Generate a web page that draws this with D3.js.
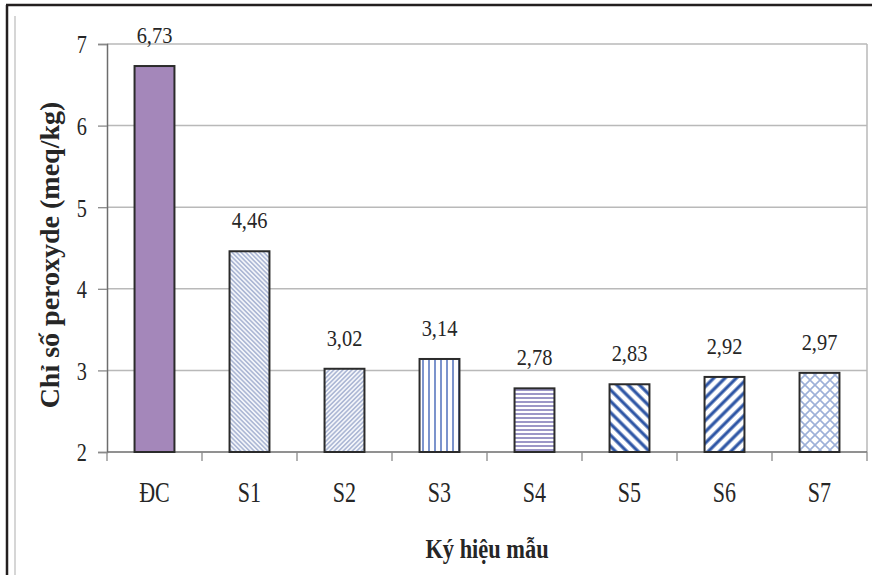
<!DOCTYPE html>
<html>
<head>
<meta charset="utf-8">
<script src="https://cdn.jsdelivr.net/npm/d3@7"></script>
<style>
  html, body { margin: 0; padding: 0; background: #fff; }
  svg { display: block; }
  text { font-family: "Liberation Serif", "Times New Roman", serif; fill: #262626; }
</style>
</head>
<body>
<svg id="chart" width="872" height="575"></svg>
<script>
// Peroxide value per sample
const categories = ["ĐC", "S1", "S2", "S3", "S4", "S5", "S6", "S7"];
const values = [6.73, 4.46, 3.02, 3.14, 2.78, 2.83, 2.92, 2.97];
const yTicks = [2, 3, 4, 5, 6, 7];
const fills = ["solid", "fineBack", "fineFwd", "vert", "horiz", "wideBack", "wideFwd", "lattice"];

const svg = d3.select("#chart");
const W = 872, H = 575;
const plot = { left: 107, right: 867, top: 44, bottom: 452 };

// Fill patterns for the bars
const defs = svg.append("defs");
function linePattern(id, size, angle, color, width, bg) {
  const p = defs.append("pattern")
    .attr("id", id).attr("patternUnits", "userSpaceOnUse")
    .attr("width", size).attr("height", size)
    .attr("patternTransform", `rotate(${angle})`);
  p.append("rect").attr("width", size).attr("height", size).attr("fill", bg);
  p.append("line").attr("x1", size / 2).attr("y1", 0).attr("x2", size / 2).attr("y2", size)
    .attr("stroke", color).attr("stroke-width", width);
}
linePattern("fineBack", 3.2, -45, "#8d9cc4", 1.1, "#f3f5fa");
linePattern("fineFwd", 3.2, 45, "#8d9cc4", 1.1, "#f3f5fa");
linePattern("vert", 6, 0, "#5b79c0", 1.6, "#ffffff");
linePattern("horiz", 4, 90, "#7b74b4", 1.5, "#ffffff");
linePattern("wideBack", 8, -45, "#2d55a5", 3.2, "#ffffff");
linePattern("wideFwd", 8, 45, "#2d55a5", 3.2, "#ffffff");
{
  const p = defs.append("pattern")
    .attr("id", "lattice").attr("patternUnits", "userSpaceOnUse")
    .attr("width", 10).attr("height", 10);
  p.append("rect").attr("width", 10).attr("height", 10).attr("fill", "#ffffff");
  p.append("path").attr("d", "M0,0 L10,10 M10,0 L0,10")
    .attr("stroke", "#9db0d8").attr("stroke-width", 1.6).attr("fill", "none");
}
const solidColor = "#a487ba";

// Outer frame
svg.append("line").attr("x1", 6).attr("y1", 5).attr("x2", W).attr("y2", 5)
  .attr("stroke", "#231f1f").attr("stroke-width", 2.5);
svg.append("line").attr("x1", 7).attr("y1", 5).attr("x2", 7).attr("y2", H)
  .attr("stroke", "#231f1f").attr("stroke-width", 2.5);
svg.append("line").attr("x1", 15).attr("y1", 16).attr("x2", 15).attr("y2", H)
  .attr("stroke", "#c8c8c8").attr("stroke-width", 1.5);

// Scales
const x = d3.scaleBand().domain(categories)
  .range([plot.left, plot.right]).paddingInner(0.58).paddingOuter(0.29);
const xStep = d3.scaleBand().domain(categories).range([plot.left, plot.right]);
const y = d3.scaleLinear().domain([2, 7]).range([plot.bottom, plot.top]);

// Gridlines and plot border
const g = svg.append("g");
g.selectAll("line.grid").data(yTicks.filter(t => t > 2)).join("line")
  .attr("class", "grid")
  .attr("x1", plot.left).attr("x2", plot.right)
  .attr("y1", d => y(d)).attr("y2", d => y(d))
  .attr("stroke", "#b9b9b9").attr("stroke-width", 1.5);
g.append("line").attr("x1", plot.right).attr("x2", plot.right)
  .attr("y1", plot.top).attr("y2", plot.bottom)
  .attr("stroke", "#b9b9b9").attr("stroke-width", 1.5);

// Y axis
const yAxis = d3.axisLeft(y).tickValues(yTicks).tickSize(9).tickPadding(11)
  .tickFormat(d3.format("d"));
const ya = svg.append("g").attr("transform", `translate(${plot.left},0)`).call(yAxis);
ya.attr("font-family", null);
ya.select(".domain").attr("stroke", "#6d6d6d").attr("stroke-width", 1.5);
ya.selectAll(".tick line").attr("stroke", "#8a8a8a").attr("stroke-width", 1.3);
ya.selectAll(".tick text")
  .attr("font-size", 26).attr("fill", "#262626")
  .attr("dy", "0.34em")
  .each(function () {
    const t = d3.select(this);
    const xx = +t.attr("x");
    t.attr("transform", `translate(${xx},0) scale(0.78,1)`).attr("x", 0);
  });

// X axis: ticks at category boundaries
const xa = svg.append("g").attr("transform", `translate(0,${plot.bottom})`);
xa.append("line").attr("x1", plot.left).attr("x2", plot.right)
  .attr("stroke", "#6d6d6d").attr("stroke-width", 1.5);
const boundaries = categories.map(c => xStep(c)).concat([plot.right]);
xa.selectAll("line.tk").data(boundaries).join("line").attr("class", "tk")
  .attr("x1", d => d).attr("x2", d => d).attr("y1", 0).attr("y2", 9)
  .attr("stroke", "#8a8a8a").attr("stroke-width", 1.3);
xa.selectAll("text").data(categories).join("text")
  .attr("transform", d => `translate(${x(d) + x.bandwidth() / 2},50) scale(0.76,1)`)
  .attr("text-anchor", "middle").attr("font-size", 29)
  .text(d => d);

// Bars
const data = categories.map((c, i) => ({ c, v: values[i], f: fills[i] }));
svg.selectAll("rect.bar").data(data).join("rect").attr("class", "bar")
  .attr("x", d => x(d.c)).attr("width", x.bandwidth())
  .attr("y", d => y(d.v)).attr("height", d => y(2) - y(d.v))
  .attr("fill", d => d.f === "solid" ? solidColor : `url(#${d.f})`)
  .attr("stroke", "#2b2b2b").attr("stroke-width", 2);

// Value labels
svg.selectAll("text.val").data(data).join("text").attr("class", "val")
  .attr("transform", d => `translate(${x(d.c) + x.bandwidth() / 2},${y(d.v) - 23}) scale(0.85,1)`)
  .attr("text-anchor", "middle").attr("font-size", 24)
  .text(d => d.v.toFixed(2).replace(".", ","));

// Axis titles
svg.append("text")
  .attr("transform", `translate(59,255) rotate(-90)`)
  .attr("text-anchor", "middle").attr("font-size", 28).attr("font-weight", "bold")
  .text("Chỉ số peroxyde (meq/kg)");
svg.append("text")
  .attr("transform", `translate(487,558) scale(0.8,1)`)
  .attr("text-anchor", "middle").attr("font-size", 28).attr("font-weight", "bold")
  .text("Ký hiệu mẫu");
</script>
</body>
</html>
